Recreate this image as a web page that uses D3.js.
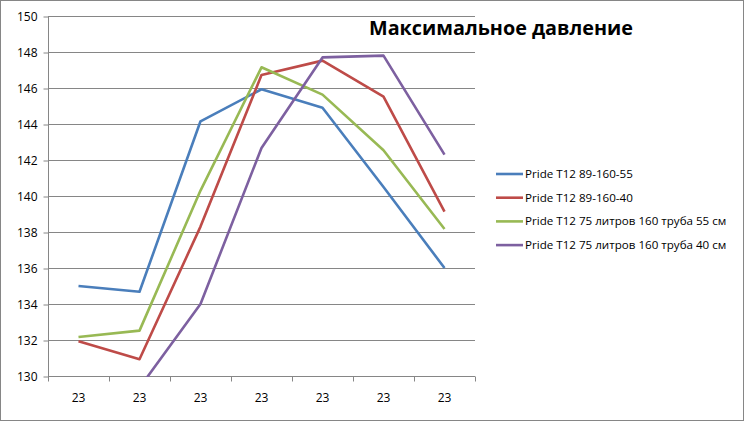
<!DOCTYPE html>
<html><head><meta charset="utf-8">
<script src="https://cdn.jsdelivr.net/npm/d3@7"></script>
<style>body{margin:0;background:#fff}svg{display:block}</style>
</head><body>
<svg id="c" width="744" height="421"></svg>
<script>
const categories = ["23","23","23","23","23","23","23"];
const seriesNames = ["Pride T12 89-160-55","Pride T12 89-160-40","Pride T12 75 литров 160 труба 55 см","Pride T12 75 литров 160 труба 40 см"];
const blueValues = [135.0,134.68,144.15,145.93,144.9,140.5,136.0];
const redValues = [131.93,130.93,138.3,146.72,147.52,145.52,139.13];
const greenValues = [132.17,132.52,140.3,147.15,145.63,142.54,138.17];
const purpleValues = [null,129.35,134.0,142.67,147.7,147.8,142.3];
const yTicks = [130,132,134,136,138,140,142,144,146,148,150];
const colors = ["#4A7EBB","#BE4B48","#98B954","#7D60A0"];
const allValues = [blueValues, redValues, greenValues, purpleValues];

const svg = d3.select("#c");
const font = "'Open Sans', sans-serif";
svg.append("rect").attr("x",0.5).attr("y",0.5).attr("width",743).attr("height",420)
  .attr("fill","#fff").attr("stroke","#868686");

const L=48, R=475, T=16, B=376;
const x = d3.scaleBand().domain(d3.range(categories.length)).range([L,R]).paddingInner(0).paddingOuter(0);
const y = d3.scaleLinear().domain([130,150]).range([B,T]);

// gridlines
svg.append("g").selectAll("line").data(yTicks).join("line")
  .attr("x1",L).attr("x2",R).attr("y1",d=>y(d)+0.5).attr("y2",d=>y(d)+0.5)
  .attr("stroke","#868686").attr("stroke-width",1);

// y axis
const yAxis = svg.append("g").attr("transform",`translate(${L+0.5},0.5)`)
  .call(d3.axisLeft(y).tickValues(yTicks).tickSize(5).tickPadding(6));
yAxis.select(".domain").attr("stroke","#868686").attr("d",`M0,${T}V${B}`);
yAxis.selectAll(".tick line").attr("stroke","#868686");
yAxis.selectAll("text").attr("font-family",font).attr("font-size",12).attr("fill","#000");

// x axis
const xAxis = svg.append("g").attr("transform",`translate(0,${B+0.5})`);
xAxis.append("line").attr("x1",L).attr("x2",R).attr("stroke","#868686");
const bounds = d3.range(categories.length+1).map(i=> i<categories.length ? x(i) : x(i-1)+x.bandwidth());
xAxis.selectAll("line.t").data(bounds).join("line").attr("class","t")
  .attr("x1",d=>Math.round(d)+0.5).attr("x2",d=>Math.round(d)+0.5).attr("y1",0).attr("y2",5).attr("stroke","#868686");
xAxis.selectAll("text").data(categories).join("text")
  .attr("x",(d,i)=>x(i)+x.bandwidth()/2).attr("y",25).attr("text-anchor","middle")
  .attr("font-family",font).attr("font-size",12).attr("fill","#000").text(d=>d);

// clip
svg.append("clipPath").attr("id","pc").append("rect").attr("x",L).attr("y",T-3).attr("width",R-L+3).attr("height",B-T+4);

const line = d3.line().defined(d=>d!=null).x((d,i)=>x(i)+x.bandwidth()/2).y(d=>y(d));
const g = svg.append("g").attr("clip-path","url(#pc)");
allValues.forEach((vals,k)=>{
  g.append("path").attr("d",line(vals)).attr("fill","none").attr("stroke",colors[k])
    .attr("stroke-width",2.6).attr("stroke-linejoin","round");
});

// title
svg.append("text").attr("x",501).attr("y",35).attr("text-anchor","middle")
  .attr("font-family",font).attr("font-weight","bold").attr("font-size",19.8).attr("fill","#000")
  .text("Максимальное давление");

// legend
const leg = svg.append("g");
seriesNames.forEach((n,k)=>{
  const yy = 174 + k*23.7;
  leg.append("line").attr("x1",496).attr("x2",523).attr("y1",yy).attr("y2",yy)
    .attr("stroke",colors[k]).attr("stroke-width",2.6);
  leg.append("text").attr("x",525).attr("y",yy+4).attr("font-family",font).attr("font-size",11.6)
    .attr("fill","#000").text(n);
});
</script>
</body></html>
